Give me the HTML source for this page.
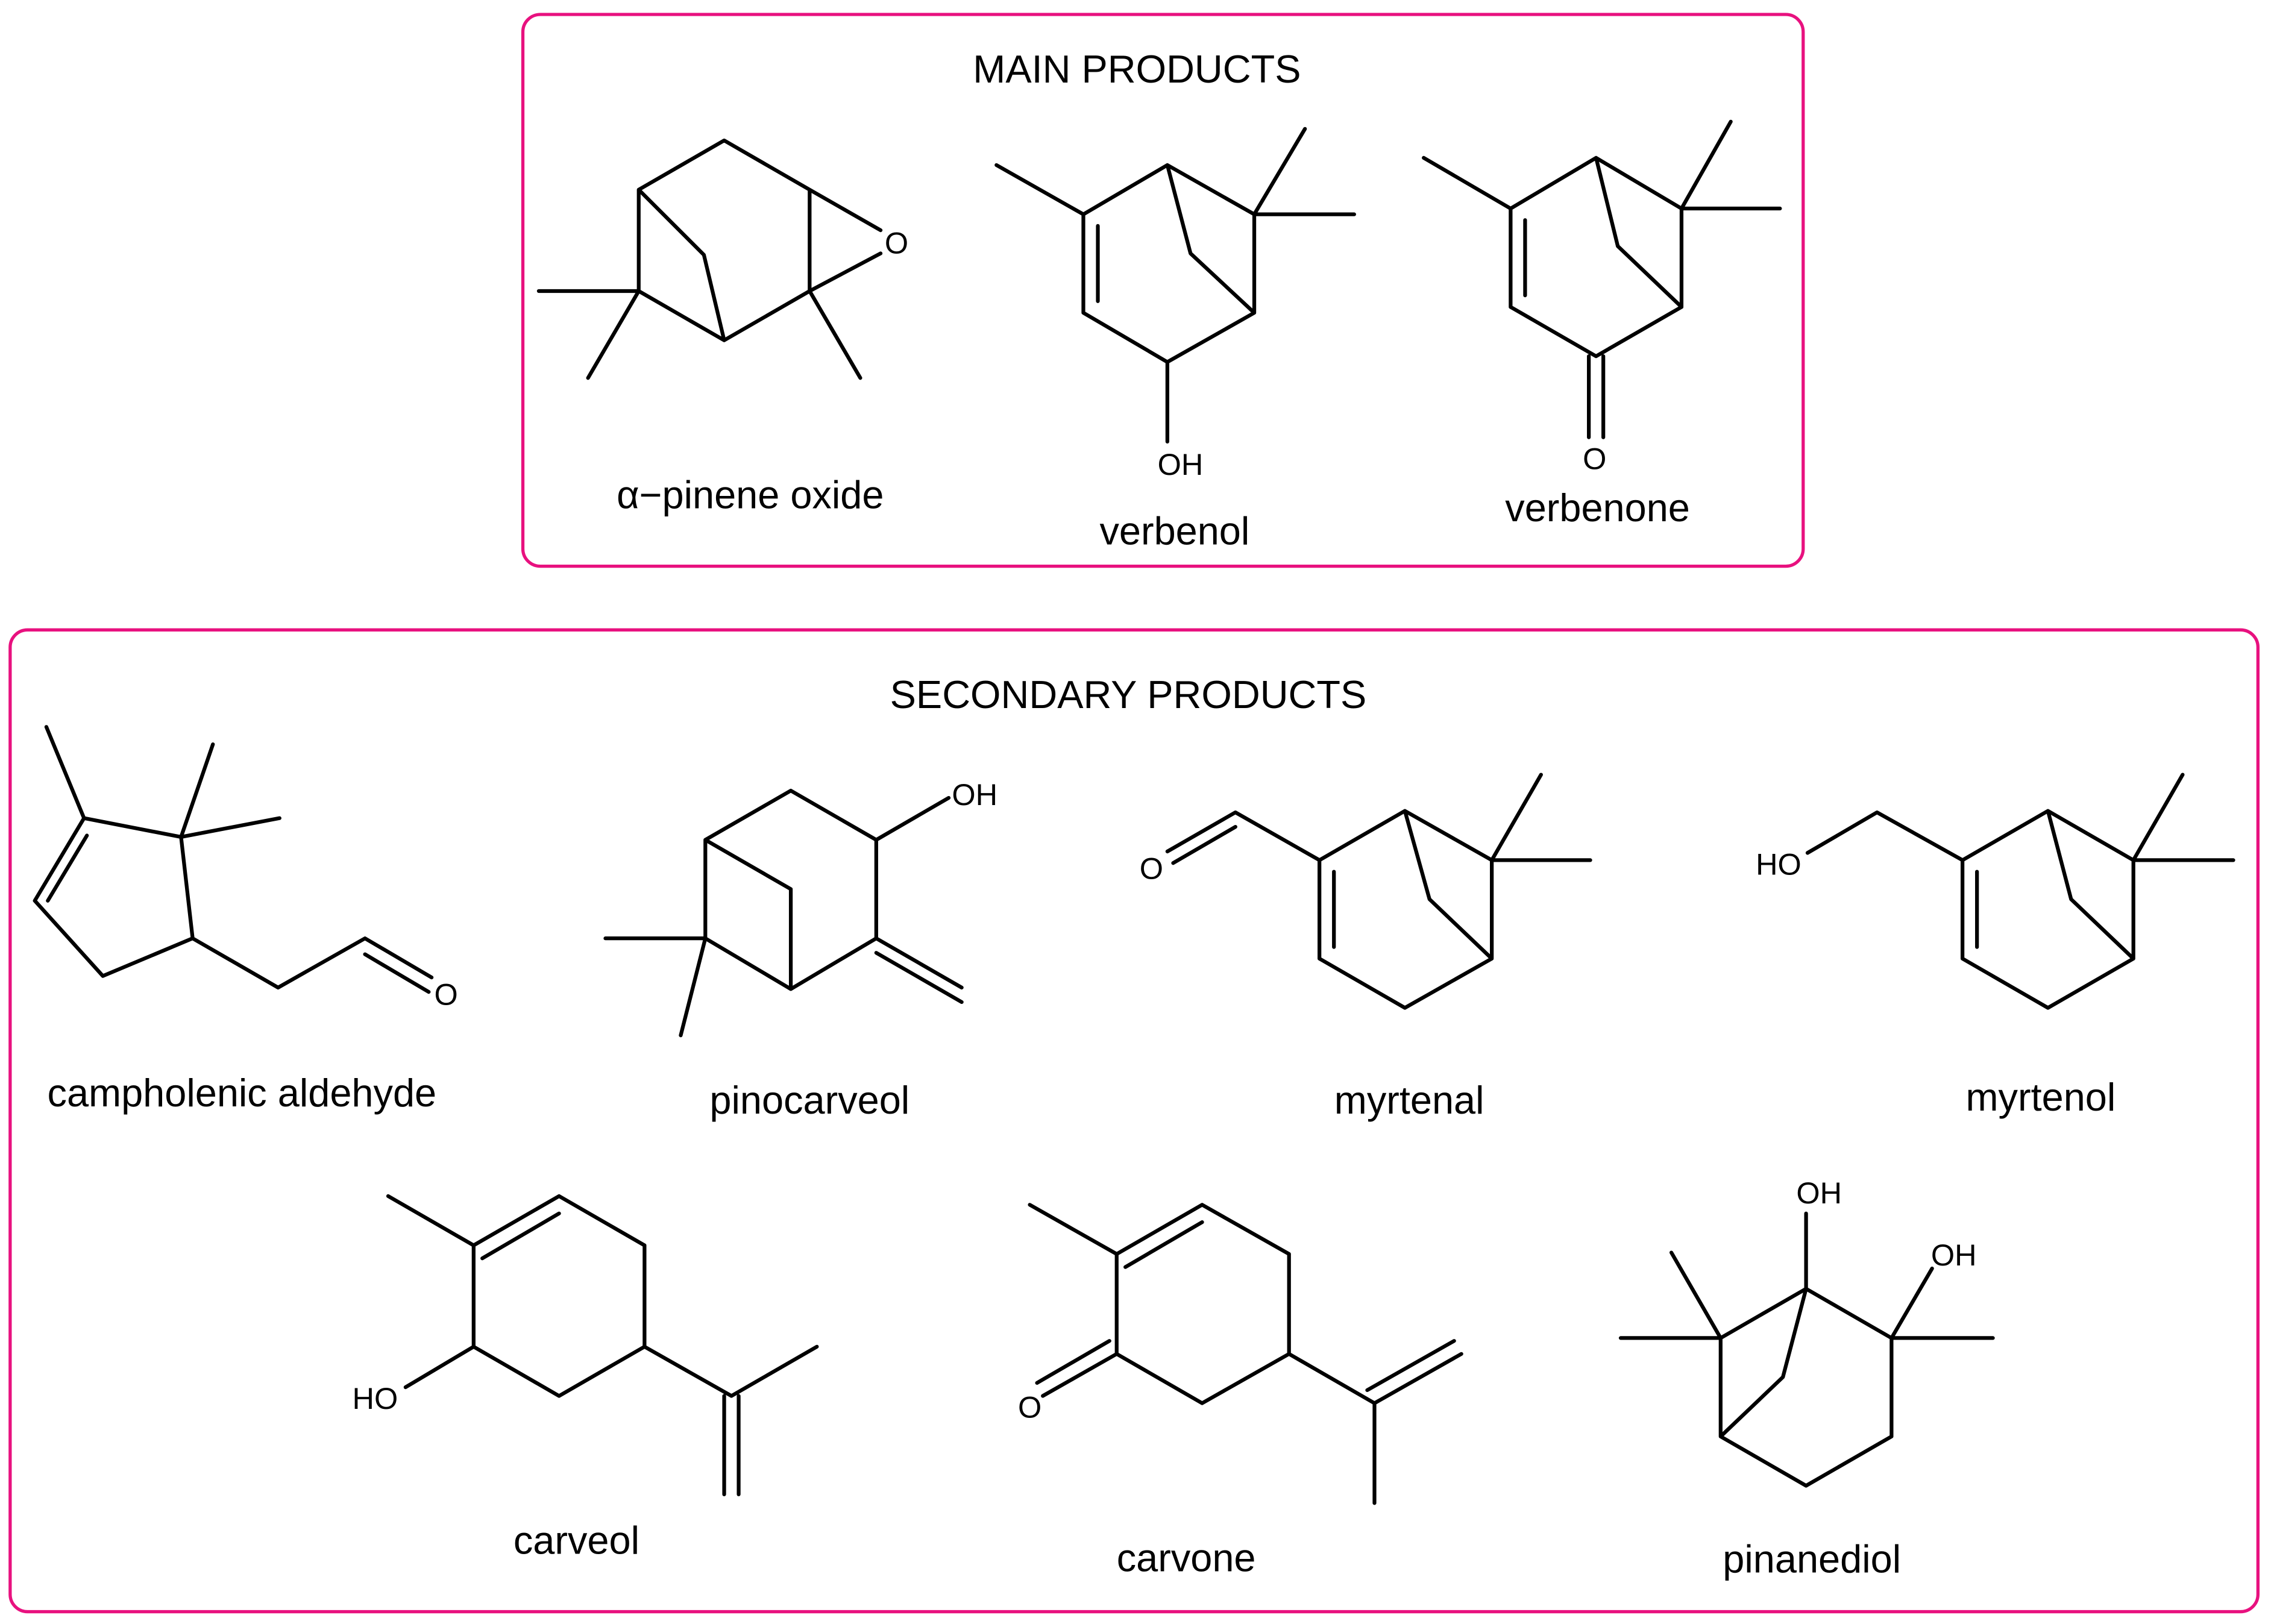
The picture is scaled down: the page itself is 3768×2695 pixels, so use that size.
<!DOCTYPE html>
<html><head><meta charset="utf-8"><style>
html,body{margin:0;padding:0;background:#fff;}
svg{display:block;}
text{font-family:"Liberation Sans",sans-serif;fill:#000;}
</style></head><body>
<svg width="3768" height="2695" viewBox="0 0 1568 1121.5" xmlns="http://www.w3.org/2000/svg">
<rect x="361" y="10" width="884" height="381" rx="12" fill="none" stroke="#e8117f" stroke-width="2.2"/>
<rect x="7" y="435" width="1552" height="678" rx="12" fill="none" stroke="#e8117f" stroke-width="2.2"/>
<g font-size="27" text-anchor="middle">
<text x="785" y="57">MAIN PRODUCTS</text>
<text x="779" y="489">SECONDARY PRODUCTS</text>
<text x="518" y="351">α−pinene oxide</text>
<text x="811" y="376">verbenol</text>
<text x="1103" y="360">verbenone</text>
<text x="167" y="764">campholenic aldehyde</text>
<text x="559" y="769">pinocarveol</text>
<text x="973" y="769">myrtenal</text>
<text x="1409" y="767">myrtenol</text>
<text x="398" y="1073">carveol</text>
<text x="819" y="1085">carvone</text>
<text x="1251" y="1086">pinanediol</text>
</g>
<g font-size="21" text-anchor="middle">
<text x="619" y="175">O</text>
<text x="815" y="328">OH</text>
<text x="1101" y="324">O</text>
<text x="308" y="694">O</text>
<text x="673" y="556">OH</text>
<text x="795" y="607">O</text>
<text x="1228" y="604">HO</text>
<text x="259" y="973">HO</text>
<text x="711" y="979">O</text>
<text x="1256" y="831">OH</text>
<text x="1349" y="874">OH</text>
</g>
<g fill="none" stroke="#000" stroke-width="2.6" stroke-linecap="round" stroke-linejoin="round">
<path d="M441,131 L500,97 L559,131 L559,201 L500,235 L441,201 Z M441,131 L486,176 L500,235 M559,131 L608,159 M559,201 L608,175 M441,201 L372,201 M441,201 L406,261 M559,201 L594,261"/>
<path d="M748,148 L806,114 L866,148 L866,216 L806,250 L748,216 Z M758,156 L758,208 M748,148 L688,114 M866,148 L901,89 M866,148 L935,148 M806,114 L822,175 L866,216 M806,250 L806,305"/>
<path d="M1043,144 L1102,109 L1161,144 L1161,212 L1102,246 L1043,212 Z M1053,152 L1053,204 M1043,144 L983,109 M1161,144 L1195,84 M1161,144 L1229,144 M1102,109 L1117,170 L1161,212 M1097,246 L1097,302 M1107,246 L1107,302"/>
<path d="M58,565 L125,578 L133,648 L71,674 L24,622 Z M60,577 L33,622 M58,565 L32,502 M125,578 L147,514 M125,578 L193,565 M133,648 L192,682 L252,648 L298,675 M252,659 L296,685"/>
<path d="M487,580 L546,546 L605,580 L605,648 L546,683 L487,648 Z M487,580 L546,614 L546,683 M605,580 L655,551 M605,648 L664,682 M605,658 L664,692 M487,648 L418,648 M487,648 L470,715"/>
<path d="M911,594 L970,560 L1030,594 L1030,662 L970,696 L911,662 Z M921,602 L921,654 M970,560 L987,621 L1030,662 M1030,594 L1064,535 M1030,594 L1098,594 M911,594 L853,561 L806,588 M853,571 L810,596"/>
<path d="M1355,594 L1414,560 L1473,594 L1473,662 L1414,696 L1355,662 Z M1365,602 L1365,654 M1414,560 L1430,621 L1473,662 M1473,594 L1507,535 M1473,594 L1542,594 M1355,594 L1296,561 L1248,589"/>
<path d="M327,860 L386,826 L445,860 L445,930 L386,964 L327,930 Z M333,869 L386,838 M327,860 L268,826 M327,930 L280,958 M445,930 L505,964 L564,930 M500,964 L500,1032 M510,964 L510,1032"/>
<path d="M771,866 L830,832 L890,866 L890,935 L830,969 L771,935 Z M777,875 L830,844 M771,866 L711,832 M771,935 L720,964 M766,926 L716,955 M890,935 L949,969 L949,1038 M949,969 L1009,935 M944,960 L1004,926"/>
<path d="M1188,924 L1247,890 L1306,924 L1306,992 L1247,1026 L1188,992 Z M1247,890 L1231,951 L1188,992 M1247,890 L1247,838 M1306,924 L1334,876 M1306,924 L1376,924 M1188,924 L1154,865 M1188,924 L1119,924"/>
</g>
</svg>
</body></html>
